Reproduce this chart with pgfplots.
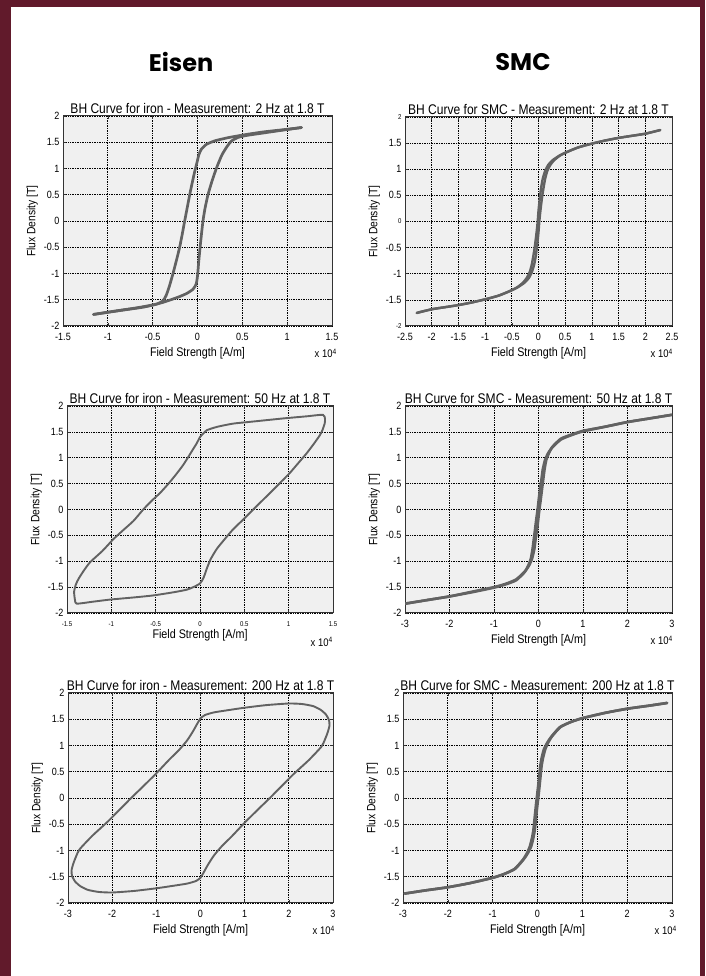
\documentclass[border=0pt]{standalone}
\usepackage{pgfplots}
\pgfplotsset{compat=1.18}
\usepackage{fontspec}
\setmainfont{Liberation Sans}[FakeStretch=0.86]
\newfontfamily\headfont{Poppins}
\definecolor{maroon}{HTML}{611A2B}
\definecolor{curve}{HTML}{626262}
\definecolor{plotbg}{HTML}{F0F0F0}
\pgfplotsset{
  bh/.style={
    scale only axis,
    axis background/.style={fill=plotbg},
    axis line style={draw=black!80, line width=1pt},
    grid=major,
    major grid style={draw=black, line width=0.7pt, densely dotted},
    major tick length=3pt,
    tick style={draw=black!80, line width=0.6pt},
    tick align=inside,
    ymin=-2, ymax=2,
    ytick={-2,-1.5,-1,-0.5,0,0.5,1,1.5,2},
    yticklabels={-2,-1.5,-1,-0.5,0,0.5,1,1.5,2},
    tick label style={font=\fontsize{10.5}{11}\selectfont},
    xticklabel style={yshift=-4pt},
    every axis title/.style={at={(0.5,1)}, anchor=south, inner sep=0pt, yshift=2pt, font=\fontsize{14}{15}\selectfont},
    every axis x label/.style={at={(0.5,0)}, anchor=base, inner sep=0pt, yshift=-31pt, font=\fontsize{12.5}{13}\selectfont},
    every axis y label/.style={at={([xshift=-25pt]axis description cs:0,0.5)}, rotate=90, anchor=south, inner sep=0pt, font=\fontsize{12}{13}\selectfont},
    xlabel={Field Strength [A/m]},
    ylabel={Flux Density [T]},
  },
  bhline/.style={draw=curve, line width=2.4pt, smooth, tension=0.35, line join=round, line cap=round},
}
\newcommand{\xtenfour}[3]{\node[anchor=base east, inner sep=0pt, font=\fontsize{11}{12}\selectfont] at ([xshift=#2,yshift=#3]#1.south east) {x 10\textsuperscript{4}};}
\begin{document}
\begin{tikzpicture}
\fill[maroon] (0pt,0pt) rectangle (705pt,976pt);
\fill[white] (11pt,0pt) rectangle (700pt,969pt);
\node[font=\headfont\bfseries\fontsize{24}{24}\selectfont] at (181pt,914pt) {Eisen};
\node[font=\headfont\bfseries\fontsize{24}{24}\selectfont] at (523pt,914pt) {SMC};

% ---------- Row 1 left: iron 2 Hz
\begin{axis}[bh, name=a1, at={(63pt,650pt)}, anchor=south west, width=269pt, height=210pt,
  xmin=-1.5, xmax=1.5, xtick={-1.5,-1,-0.5,0,0.5,1,1.5},
  xticklabels={-1.5,-1,-0.5,0,0.5,1,1.5},
  title={BH Curve for iron - Measurement: 2 Hz at 1.8 T}]
\addplot[bhline, line width=2.7pt] coordinates {
(1.16,1.78) (0.99,1.745) (0.75,1.70) (0.55,1.65) (0.35,1.59) (0.2,1.53) (0.1,1.46) (0.04,1.36) (0.015,1.26) (-0.005,1.12) (-0.03,0.95) (-0.06,0.72) (-0.087,0.5) (-0.115,0.25) (-0.143,0.0) (-0.17,-0.25) (-0.199,-0.5) (-0.235,-0.75) (-0.273,-1.0) (-0.315,-1.25) (-0.35,-1.42) (-0.385,-1.52) (-0.45,-1.58) (-0.6,-1.64) (-0.8,-1.69) (-1.0,-1.74) (-1.16,-1.78)
};
\addplot[bhline, line width=2.7pt] coordinates {
(-1.16,-1.78) (-0.9,-1.71) (-0.7,-1.66) (-0.5,-1.6) (-0.385,-1.55) (-0.28,-1.49) (-0.2,-1.44) (-0.12,-1.38) (-0.05,-1.3) (-0.015,-1.2) (0.0,-1.05) (0.015,-0.75) (0.035,-0.4) (0.061,0.0) (0.085,0.25) (0.117,0.5) (0.16,0.75) (0.21,1.0) (0.27,1.25) (0.33,1.42) (0.377,1.52) (0.45,1.59) (0.55,1.63) (0.75,1.68) (0.95,1.73) (1.16,1.78)
};
\end{axis}
\xtenfour{a1}{5pt}{-32pt}

% ---------- Row 1 right: SMC 2 Hz
\begin{axis}[bh, name=a2, at={(405pt,650pt)}, anchor=south west, width=267pt, height=209pt,
  xmin=-2.5, xmax=2.5, xtick={-2.5,-2,-1.5,-1,-0.5,0,0.5,1,1.5,2,2.5},
  xticklabels={-2.5,-2,-1.5,-1,-0.5,0,0.5,1,1.5,2,2.5},
  yticklabels={{\fontsize{7}{8}\selectfont -2},-1.5,-1,-0.5,{\fontsize{7}{8}\selectfont 0},0.5,1,1.5,{\fontsize{7}{8}\selectfont 2}},
  title={BH Curve for SMC - Measurement: 2 Hz at 1.8 T}]
\addplot[bhline] coordinates {
(-2.28,-1.75) (-2.0,-1.68) (-1.75,-1.64) (-1.5,-1.6) (-1.25,-1.55) (-1.0,-1.49) (-0.75,-1.42) (-0.53,-1.33) (-0.39,-1.26) (-0.26,-1.17) (-0.18,-1.08) (-0.125,-0.97) (-0.08,-0.82) (-0.05,-0.65) (-0.025,-0.45) (0.0,-0.2) (0.015,0) (0.035,0.2) (0.065,0.45) (0.095,0.65) (0.125,0.82) (0.165,0.97) (0.22,1.08) (0.29,1.17) (0.4,1.26) (0.535,1.33) (0.75,1.42) (1.0,1.49) (1.25,1.55) (1.5,1.6) (1.75,1.64) (2.0,1.68) (2.28,1.75)
};
\addplot[bhline] coordinates {
(2.28,1.75) (2.0,1.68) (1.75,1.64) (1.5,1.6) (1.25,1.55) (1.0,1.49) (0.75,1.42) (0.53,1.33) (0.39,1.26) (0.26,1.17) (0.18,1.08) (0.125,0.97) (0.08,0.82) (0.05,0.65) (0.025,0.45) (0.0,0.2) (-0.015,0) (-0.035,-0.2) (-0.065,-0.45) (-0.095,-0.65) (-0.125,-0.82) (-0.165,-0.97) (-0.22,-1.08) (-0.29,-1.17) (-0.4,-1.26) (-0.535,-1.33) (-0.75,-1.42) (-1.0,-1.49) (-1.25,-1.55) (-1.5,-1.6) (-1.75,-1.64) (-2.0,-1.68) (-2.28,-1.75)
};
\end{axis}
\xtenfour{a2}{1pt}{-32pt}

% ---------- Row 2 left: iron 50 Hz
\begin{axis}[bh, name=a3, at={(67pt,363pt)}, anchor=south west, width=266pt, height=207pt,
  xmin=-1.5, xmax=1.5, xtick={-1.5,-1,-0.5,0,0.5,1,1.5},
  xticklabels={-1.5,-1,-0.5,0,0.5,1,1.5},
  xticklabel style={font=\fontsize{7}{8}\selectfont, yshift=-1pt},
  every axis x label/.append style={yshift=5pt},
  title={BH Curve for iron - Measurement: 50 Hz at 1.8 T}]
\addplot[bhline, line width=1.9pt] coordinates {
(0.0,1.40) (0.075,1.53) (0.2,1.60) (0.375,1.66) (0.6,1.70) (0.94,1.76) (1.2,1.80) (1.387,1.83) (1.41,1.75) (1.406,1.66) (1.38,1.53) (1.35,1.43) (1.28,1.26) (1.2,1.08) (1.1,0.88) (1.01,0.70) (0.9,0.51) (0.79,0.32) (0.6,0.0) (0.49,-0.19) (0.375,-0.38) (0.28,-0.57) (0.19,-0.76) (0.12,-0.96) (0.075,-1.15) (0.04,-1.32) (0.0,-1.43) (-0.075,-1.50) (-0.15,-1.55) (-0.3,-1.60) (-0.525,-1.66) (-0.75,-1.70) (-1.01,-1.74) (-1.2,-1.78) (-1.39,-1.82) (-1.41,-1.75) (-1.42,-1.59) (-1.40,-1.45) (-1.37,-1.34) (-1.31,-1.18) (-1.24,-1.02) (-1.1,-0.8) (-0.975,-0.57) (-0.86,-0.39) (-0.75,-0.22) (-0.64,0.0) (-0.55,0.16) (-0.45,0.32) (-0.35,0.51) (-0.26,0.70) (-0.19,0.86) (-0.13,1.02) (-0.08,1.16) (-0.04,1.27) (0.0,1.40)
};
\end{axis}
\xtenfour{a3}{0pt}{-33.5pt}

% ---------- Row 2 right: SMC 50 Hz
\begin{axis}[bh, name=a4, at={(405pt,363pt)}, anchor=south west, width=267pt, height=207pt,
  xmin=-3, xmax=3, xtick={-3,-2,-1,0,1,2,3},
  xticklabels={-3,-2,-1,0,1,2,3},
  title={BH Curve for SMC - Measurement: 50 Hz at 1.8 T}]
\addplot[bhline, line width=2.6pt] coordinates {
(-3.0,-1.82) (-2.5,-1.75) (-2.0,-1.68) (-1.5,-1.59) (-1.0,-1.5) (-0.75,-1.44) (-0.5,-1.35) (-0.3,-1.19) (-0.21,-1.08) (-0.145,-0.95) (-0.095,-0.77) (-0.065,-0.57) (-0.035,-0.4) (-0.005,-0.19) (0.02,0) (0.05,0.19) (0.08,0.4) (0.105,0.57) (0.135,0.77) (0.175,0.96) (0.24,1.1) (0.31,1.21) (0.505,1.37) (0.75,1.45) (1.0,1.52) (1.5,1.6) (2.0,1.69) (2.5,1.76) (3.0,1.83)
};
\addplot[bhline, line width=2.6pt] coordinates {
(3.0,1.83) (2.5,1.76) (2.0,1.69) (1.5,1.6) (1.0,1.51) (0.75,1.44) (0.5,1.35) (0.3,1.19) (0.21,1.08) (0.145,0.95) (0.095,0.77) (0.065,0.57) (0.035,0.4) (0.005,0.19) (-0.02,0) (-0.05,-0.19) (-0.08,-0.4) (-0.105,-0.57) (-0.135,-0.77) (-0.175,-0.96) (-0.24,-1.1) (-0.31,-1.21) (-0.505,-1.37) (-0.75,-1.45) (-1.0,-1.51) (-1.5,-1.6) (-2.0,-1.68) (-2.5,-1.75) (-3.0,-1.82)
};
\end{axis}
\xtenfour{a4}{1pt}{-32pt}

% ---------- Row 3 left: iron 200 Hz
\begin{axis}[bh, name=a5, at={(68pt,73pt)}, anchor=south west, width=265pt, height=210pt,
  xmin=-3, xmax=3, xtick={-3,-2,-1,0,1,2,3},
  xticklabels={-3,-2,-1,0,1,2,3},
  title={BH Curve for iron - Measurement: 200 Hz at 1.8 T}]
\addplot[bhline, line width=1.9pt] coordinates {
(0.0,1.52) (0.1,1.58) (0.3,1.63) (0.6,1.67) (1.0,1.72) (1.5,1.77) (2.0,1.80) (2.3,1.79) (2.55,1.75) (2.72,1.68) (2.84,1.59) (2.91,1.48) (2.92,1.38) (2.88,1.25) (2.82,1.12) (2.74,0.98) (2.45,0.72) (2.1,0.45) (1.83,0.22) (1.57,0.0) (1.3,-0.22) (1.0,-0.47) (0.72,-0.72) (0.47,-0.93) (0.3,-1.1) (0.17,-1.27) (0.07,-1.42) (0.0,-1.52) (-0.1,-1.58) (-0.3,-1.63) (-0.6,-1.67) (-1.0,-1.72) (-1.5,-1.77) (-2.0,-1.80) (-2.3,-1.79) (-2.55,-1.75) (-2.72,-1.68) (-2.84,-1.59) (-2.91,-1.48) (-2.92,-1.38) (-2.88,-1.25) (-2.82,-1.12) (-2.74,-0.98) (-2.45,-0.72) (-2.1,-0.45) (-1.83,-0.22) (-1.57,0.0) (-1.3,0.22) (-1.0,0.47) (-0.72,0.72) (-0.47,0.93) (-0.3,1.1) (-0.17,1.27) (-0.07,1.42) (0.0,1.52)
};
\end{axis}
\xtenfour{a5}{2pt}{-32pt}

% ---------- Row 3 right: SMC 200 Hz
\begin{axis}[bh, name=a6, at={(403pt,73pt)}, anchor=south west, width=269pt, height=210pt,
  xmin=-3, xmax=3, xtick={-3,-2,-1,0,1,2,3},
  xticklabels={-3,-2,-1,0,1,2,3},
  title={BH Curve for SMC - Measurement: 200 Hz at 1.8 T}]
\addplot[bhline, line width=2.6pt] coordinates {
(-2.96,-1.82) (-2.5,-1.76) (-2.0,-1.70) (-1.5,-1.62) (-1.0,-1.52) (-0.75,-1.45) (-0.5,-1.35) (-0.31,-1.17) (-0.215,-1.05) (-0.14,-0.92) (-0.09,-0.75) (-0.06,-0.6) (-0.03,-0.35) (0.0,-0.12) (0.03,0.1) (0.06,0.35) (0.09,0.6) (0.12,0.75) (0.17,0.92) (0.235,1.05) (0.32,1.17) (0.51,1.35) (0.75,1.45) (1.0,1.52) (1.5,1.62) (2.0,1.70) (2.5,1.76) (2.89,1.81)
};
\addplot[bhline, line width=2.6pt] coordinates {
(2.89,1.81) (2.5,1.76) (2.0,1.70) (1.5,1.62) (1.0,1.52) (0.75,1.45) (0.5,1.35) (0.31,1.17) (0.215,1.05) (0.14,0.92) (0.09,0.75) (0.06,0.6) (0.03,0.35) (0.0,0.12) (-0.03,-0.1) (-0.06,-0.35) (-0.09,-0.6) (-0.12,-0.75) (-0.17,-0.92) (-0.235,-1.05) (-0.32,-1.17) (-0.51,-1.35) (-0.75,-1.45) (-1.0,-1.52) (-1.5,-1.62) (-2.0,-1.70) (-2.5,-1.76) (-2.96,-1.82)
};
\end{axis}
\xtenfour{a6}{5pt}{-32pt}
\end{tikzpicture}
\end{document}
